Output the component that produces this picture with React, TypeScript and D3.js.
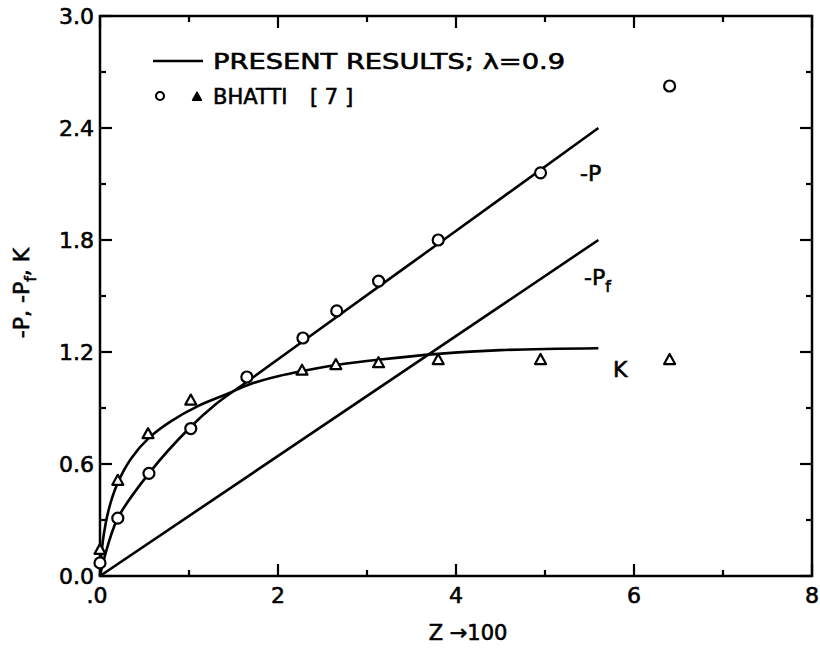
import React from "react";
import * as d3 from "d3";

// Data
const xTicksMajor = [0, 2, 4, 6, 8];
const xTickLabels = [".0", "2", "4", "6", "8"];
const xTicksMinor = [1, 3, 5, 7];
const yTicksMajor = [0, 0.6, 1.2, 1.8, 2.4, 3.0];
const yTickLabels = ["0.0", "0.6", "1.2", "1.8", "2.4", "3.0"];
const yTicksMinor = [0.3, 0.9, 1.5, 2.1, 2.7];

// Present results (curves)
const curvePZ = [0, 0.05, 0.2, 0.55, 1.0, 1.3, 1.65, 2.3, 3.8, 5.6];
const curvePV = [0, 0.1, 0.31, 0.55, 0.79, 0.92, 1.04, 1.264, 1.78, 2.4];
const curvePfZ = [0, 5.6];
const curvePfV = [0, 1.8];
const curveKZ = [0, 0.03, 0.1, 0.2, 0.35, 0.55, 0.8, 1.1, 1.4, 1.7, 2.0, 2.3, 2.65, 3.15, 3.8, 4.5, 5.6];
const curveKV = [0, 0.18, 0.36, 0.5, 0.63, 0.74, 0.83, 0.91, 0.97, 1.03, 1.07, 1.1, 1.13, 1.16, 1.19, 1.21, 1.22];

// Bhatti [7] data
const bhattiPZ = [0.0, 0.2, 0.55, 1.02, 1.65, 2.28, 2.66, 3.13, 3.8, 4.95, 6.4];
const bhattiPV = [0.07, 0.31, 0.55, 0.79, 1.066, 1.275, 1.42, 1.58, 1.8, 2.16, 2.625];
const bhattiKZ = [0.0, 0.2, 0.54, 1.02, 2.27, 2.65, 3.13, 3.8, 4.95, 6.4];
const bhattiKV = [0.14, 0.51, 0.76, 0.94, 1.1, 1.13, 1.14, 1.157, 1.157, 1.157];

const FONT = "'DejaVu Sans', 'Liberation Sans', sans-serif";
const TS = { fontFamily: FONT, stroke: "#000", strokeWidth: 0.6 } as const;

export default function App() {
  const W = 820, H = 652;
  const x = d3.scaleLinear().domain([0, 8]).range([100, 812]);
  const y = d3.scaleLinear().domain([0, 3]).range([576, 16]);
  const line = d3
    .line<[number, number]>()
    .x((d) => x(d[0]))
    .y((d) => y(d[1]))
    .curve(d3.curveCatmullRom.alpha(0.5));
  const zip = (a: number[], b: number[]) => a.map((v, i) => [v, b[i]] as [number, number]);

  const tri = (cx: number, cy: number, s: number) =>
    `M${cx},${cy - s * 0.6} L${cx + s * 0.55},${cy + s * 0.4} L${cx - s * 0.55},${cy + s * 0.4} Z`;

  const x0 = x(0), x1 = x(8), y0 = y(0), y1 = y(3);
  const majorLen = 12, minorLen = 6;

  return (
    <svg width={W} height={H} style={{ position: "absolute", left: 0, top: 0, background: "#fff" }}>
      <rect x={0} y={0} width={W} height={H} fill="#fff" />
      {/* frame */}
      <rect x={x0} y={y1} width={x1 - x0} height={y0 - y1} fill="none" stroke="#000" strokeWidth={2.5} />
      {/* x ticks */}
      {xTicksMajor.map((t) => (
        <g key={"xm" + t}>
          <line x1={x(t)} x2={x(t)} y1={y0} y2={y0 - majorLen} stroke="#000" strokeWidth={2.2} />
          <line x1={x(t)} x2={x(t)} y1={y1} y2={y1 + majorLen} stroke="#000" strokeWidth={2.2} />
        </g>
      ))}
      {xTicksMinor.map((t) => (
        <g key={"xn" + t}>
          <line x1={x(t)} x2={x(t)} y1={y0} y2={y0 - minorLen} stroke="#000" strokeWidth={2.2} />
          <line x1={x(t)} x2={x(t)} y1={y1} y2={y1 + minorLen} stroke="#000" strokeWidth={2.2} />
        </g>
      ))}
      {yTicksMajor.map((t) => (
        <g key={"ym" + t}>
          <line x1={x0} x2={x0 + majorLen} y1={y(t)} y2={y(t)} stroke="#000" strokeWidth={2.2} />
          <line x1={x1} x2={x1 - majorLen} y1={y(t)} y2={y(t)} stroke="#000" strokeWidth={2.2} />
        </g>
      ))}
      {yTicksMinor.map((t) => (
        <g key={"yn" + t}>
          <line x1={x0} x2={x0 + minorLen} y1={y(t)} y2={y(t)} stroke="#000" strokeWidth={2.2} />
          <line x1={x1} x2={x1 - minorLen} y1={y(t)} y2={y(t)} stroke="#000" strokeWidth={2.2} />
        </g>
      ))}
      {/* tick labels */}
      {xTicksMajor.map((t, i) => (
        <text key={"xl" + t} x={x(t) - (i === 0 ? 3 : 0)} y={603} textAnchor="middle" fontSize={22} {...TS}>
          {xTickLabels[i]}
        </text>
      ))}
      {yTicksMajor.map((t, i) => (
        <text key={"yl" + t} x={94} y={y(t) + 8} textAnchor="end" fontSize={22} {...TS}>
          {yTickLabels[i]}
        </text>
      ))}
      {/* axis titles */}
      <text x={468} y={640} textAnchor="middle" fontSize={21} {...TS}>
        Z →100
      </text>
      <text transform="translate(29,293) rotate(-90)" textAnchor="middle" fontSize={22} {...TS}>
        -P, -P<tspan fontSize={16} dy={7}>f</tspan>
        <tspan dy={-7}>, K</tspan>
      </text>

      {/* curves */}
      <path d={line(zip(curvePZ, curvePV)) || ""} fill="none" stroke="#000" strokeWidth={2.6} />
      <path d={line(zip(curvePfZ, curvePfV)) || ""} fill="none" stroke="#000" strokeWidth={2.6} />
      <path d={line(zip(curveKZ, curveKV)) || ""} fill="none" stroke="#000" strokeWidth={2.6} />

      {/* Bhatti data */}
      {bhattiPZ.map((z, i) => (
        <circle key={"bp" + i} cx={x(z)} cy={y(bhattiPV[i])} r={5.5} fill="#fff" stroke="#000" strokeWidth={2.2} />
      ))}
      {bhattiKZ.map((z, i) => (
        <path key={"bk" + i} d={tri(x(z), y(bhattiKV[i]), 10)} fill="#fff" stroke="#000" strokeWidth={2.2} strokeLinejoin="round" />
      ))}

      {/* curve annotations */}
      <text x={580} y={181} fontSize={22} {...TS}>-P</text>
      <text x={584} y={285} fontSize={22} {...TS}>
        -P<tspan fontSize={16} dy={7}>f</tspan>
      </text>
      <text x={613} y={377} fontSize={22} {...TS}>K</text>

      {/* legend */}
      <line x1={153} x2={203} y1={61} y2={61} stroke="#000" strokeWidth={2.6} />
      <text x={213} y={69} fontSize={21} textLength={352} lengthAdjust="spacingAndGlyphs" {...TS}>
        PRESENT RESULTS; λ=0.9
      </text>
      <circle cx={160} cy={96} r={4} fill="#fff" stroke="#000" strokeWidth={2.2} />
      <path d={tri(197, 97, 8)} fill="#000" stroke="#000" strokeWidth={1.5} strokeLinejoin="round" />
      <text x={213} y={104} fontSize={21} {...TS}>BHATTI</text>
      <text x={310} y={104} fontSize={21} {...TS}>[ 7 ]</text>
    </svg>
  );
}
